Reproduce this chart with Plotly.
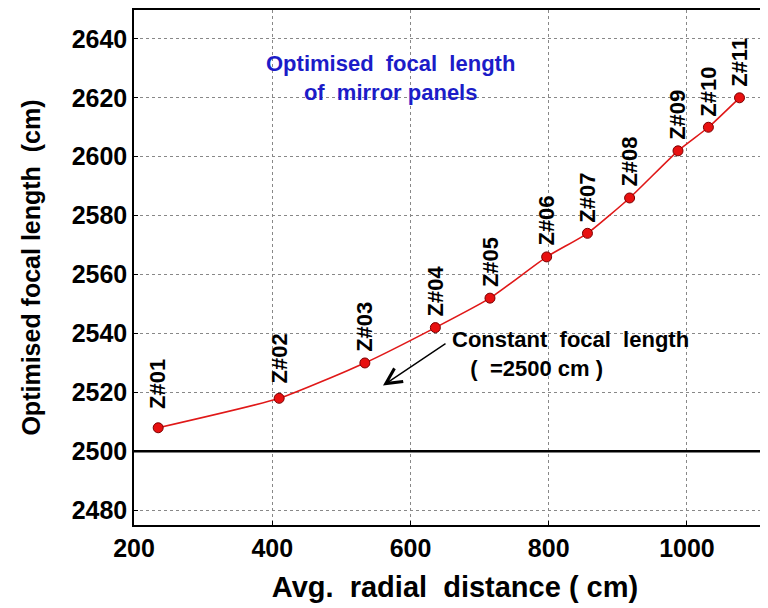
import plotly.graph_objects as go

# ---- data ----
zone_labels = ["Z#01", "Z#02", "Z#03", "Z#04", "Z#05", "Z#06",
               "Z#07", "Z#08", "Z#09", "Z#10", "Z#11"]
radial_distance_cm = [235, 410, 534, 636, 715, 797, 856, 917, 987, 1031, 1076]
focal_length_cm = [2508, 2518, 2530, 2542, 2552, 2566, 2574, 2586, 2602, 2610, 2620]
constant_focal_cm = 2500
x_ticks = [200, 400, 600, 800, 1000]
y_ticks = [2480, 2500, 2520, 2540, 2560, 2580, 2600, 2620, 2640]

FONT = "Arial, Liberation Sans, sans-serif"
NB = "\u00a0"

# plot-area geometry (page is offset by the 8px body margin)
PLOT_W = 642
PLOT_H = 517


def px(page_x):
    return (page_x - 134) / PLOT_W


def py(page_y):
    return (525 - page_y) / PLOT_H


fig = go.Figure()

fig.add_trace(go.Scatter(
    x=radial_distance_cm, y=focal_length_cm,
    mode="lines+markers",
    line=dict(color="#e01818", width=1.6, shape="spline", smoothing=0.5),
    marker=dict(size=10, color="#e81010", line=dict(color="#7a0000", width=1)),
    showlegend=False,
))

# constant focal length reference line
fig.add_shape(type="line", xref="paper", x0=0, x1=1, yref="y",
              y0=constant_focal_cm, y1=constant_focal_cm,
              line=dict(color="black", width=2.5))

label_shift = {"Z#01": 17, "Z#02": 13}
annotations = []
for lab, x, y in zip(zone_labels, radial_distance_cm, focal_length_cm):
    annotations.append(dict(
        x=x, y=y, xref="x", yref="y", text="<b>%s</b>" % lab,
        textangle=-90, showarrow=False, xanchor="center", yanchor="bottom",
        yshift=label_shift.get(lab, 9),
        font=dict(family=FONT, size=22, color="black")))

annotations.append(dict(
    xref="paper", yref="paper", x=px(390), y=py(76),
    text="<b>Optimised%sfocal%slength<br>of%smirror panels</b>" % (NB * 2, NB * 2, NB * 2),
    showarrow=False, xanchor="center", yanchor="middle", align="center",
    font=dict(family=FONT, size=22, color="#1c1cc8")))

# arrow pointing towards the constant focal length line
annotations.append(dict(
    xref="paper", yref="paper", x=px(383), y=py(385),
    text="", showarrow=True, ax=64, ay=-43,
    arrowhead=5, arrowsize=2.2, arrowwidth=1.4, arrowcolor="black",
    standoff=0, startstandoff=0))

annotations.append(dict(
    xref="paper", yref="paper", x=px(450), y=py(353),
    text="<b>Constant%sfocal%slength<br>%s(%s=2500 cm )</b>" % (NB * 2, NB * 2, NB * 3, NB * 2),
    showarrow=False, xanchor="left", yanchor="middle", align="left",
    font=dict(family=FONT, size=22, color="black")))

fig.update_layout(
    width=768, height=600,
    margin=dict(l=126, r=0, t=0, b=83),
    paper_bgcolor="white", plot_bgcolor="white",
    annotations=annotations,
    xaxis=dict(
        range=[200, 1128.8], tickvals=x_ticks,
        ticktext=["<b>%d</b>" % v for v in x_ticks],
        showgrid=True, gridcolor="#888", griddash="dot", gridwidth=1,
        showline=True, linecolor="black", linewidth=1.5, mirror=True,
        ticks="inside", ticklen=4, tickcolor="black",
        tickfont=dict(family=FONT, size=25, color="black"),
        title=dict(text="<b>Avg.%sradial%sdistance ( cm)</b>" % (NB * 2, NB * 2),
                   font=dict(family=FONT, size=29, color="black"), standoff=16),
        zeroline=False,
    ),
    yaxis=dict(
        range=[2475, 2649.8], tickvals=y_ticks,
        ticktext=["<b>%d</b>" % v for v in y_ticks],
        showgrid=True, gridcolor="#888", griddash="dot", gridwidth=1,
        showline=True, linecolor="black", linewidth=1.5, mirror=False,
        ticks="inside", ticklen=4, tickcolor="black",
        tickfont=dict(family=FONT, size=25, color="black"),
        title=dict(text="<b>Optimised focal length%s(cm)</b>" % (NB * 2),
                   font=dict(family=FONT, size=25, color="black"), standoff=24),
        zeroline=False,
    ),
)

fig.write_html("out.html")
